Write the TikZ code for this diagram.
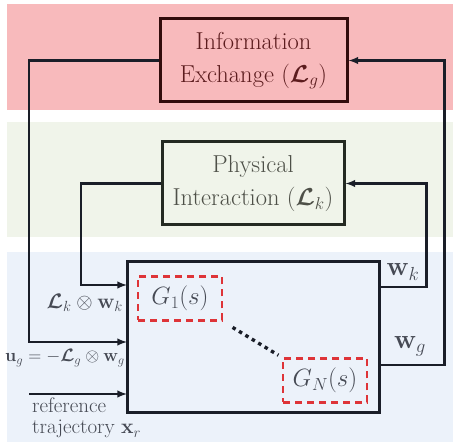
\RequirePackage{fix-cm}
\documentclass[tikz,border=0pt]{standalone}
\usepackage{amsmath}
\usepackage{amssymb}
\usepackage{bm}
\usepackage{xcolor}
\usepackage{tikz}
\usetikzlibrary{positioning,arrows}
\definecolor{bandred}{RGB}{248,186,188}
\definecolor{bandgreen}{RGB}{240,244,234}
\definecolor{bandblue}{RGB}{236,242,250}
\definecolor{infotext}{RGB}{92,28,30}
\definecolor{infoline}{RGB}{50,12,12}
\definecolor{phystext}{RGB}{78,80,72}
\definecolor{physline}{RGB}{36,42,34}
\definecolor{plantline}{RGB}{26,30,40}
\definecolor{labeltext}{RGB}{70,74,84}
\definecolor{gred}{RGB}{222,52,56}

\begin{document}
\begin{tikzpicture}[x=1pt,y=-1pt,
                block/.style = {draw, line width=3pt, align=center, inner sep=0pt,
                                font=\fontsize{24.5}{33}\selectfont},
                subsys/.style = {draw=gred, dashed, line width=2.4pt, dash pattern=on 7pt off 5pt,
                                 minimum width=84pt, minimum height=44pt, text=labeltext,
                                 font=\fontsize{25}{28}\selectfont},
                arr/.style = {-latex, line width=2.3pt, draw=plantline},
                lbl/.style = {text=labeltext, inner sep=0pt, font=\fontsize{21}{24}\selectfont}]
            \useasboundingbox (0,0) rectangle (453,446);
            \fill[bandred] (7,4) rectangle (453,110);
            \fill[bandgreen] (7,122) rectangle (453,237);
            \fill[bandblue] (7,252) rectangle (453,442);
            \node[block, draw=infoline, text=infotext, minimum width=187pt, minimum height=83pt]
                (info) at (253.5,60.5) {Information\\Exchange ($\bm{\mathcal{L}}_g$)};
            \node[block, draw=physline, text=phystext, minimum width=182pt, minimum height=83pt]
                (phys) at (253,183.5) {Physical\\Interaction ($\bm{\mathcal{L}}_k$)};
            \node[block, draw=plantline, minimum width=252pt, minimum height=151pt] (plant) at (253,337.5) {};
            \node[subsys] (g1) at (180,298.5) {$G_1(s)$};
            \node[subsys] (gn) at (325,380.5) {$G_N(s)$};
            \draw[plantline, line width=3.4pt, dash pattern=on 3.5pt off 4pt,
                  shorten <=11pt, shorten >=4pt] (g1.south east) -- (gn.north west);
            \coordinate (lk) at (127,285);
            \coordinate (ug) at (127,342);
            \coordinate (xr) at (127,394);
            \coordinate (wk) at (379,287);
            \coordinate (wg) at (379,365);
            \draw[arr] (info.west) -| ([xshift=-98pt]ug) -- (ug);
            \draw[arr] (phys.west) -| ([xshift=-46pt]lk) -- (lk);
            \draw[arr] ([xshift=-98pt]xr) -- (xr);
            \draw[arr] (wk) -| ([xshift=81pt]phys.east) -- (phys.east);
            \draw[arr] (wg) -| ([xshift=96pt]info.east) -- (info.east);
            \node[lbl, anchor=east] (lklbl) at (123,303) {$\bm{\mathcal{L}}_k \otimes \mathbf{w}_k$};
            \node[lbl, anchor=east, font=\fontsize{18}{20}\selectfont] (uglbl) at (125,358)
                {$\mathbf{u}_g = -\bm{\mathcal{L}}_g \otimes \mathbf{w}_g$};
            \node[lbl, anchor=north west, align=left, font=\fontsize{21}{21}\selectfont] (xrlbl) at (32,398)
                {reference\\trajectory $\mathbf{x}_r$};
            \node[lbl, font=\fontsize{27}{30}\selectfont] (wklbl) at (403,272) {$\mathbf{w}_k$};
            \node[lbl, font=\fontsize{27}{30}\selectfont] (wglbl) at (410,346) {$\mathbf{w}_g$};
            \end{tikzpicture}
\end{document}
